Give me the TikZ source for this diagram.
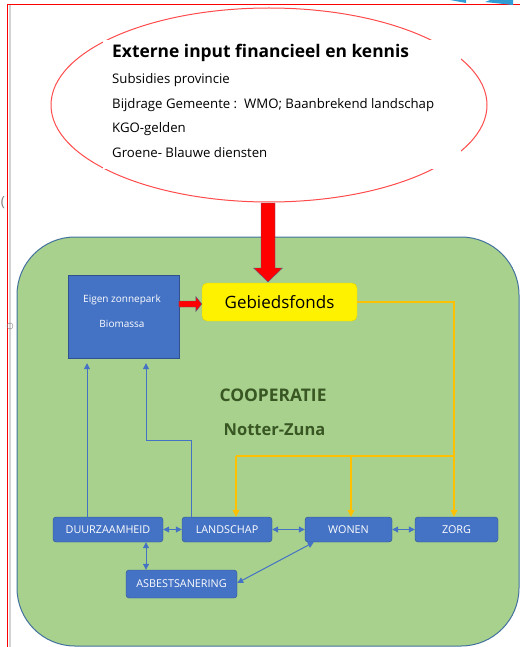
\documentclass[tikz,border=0pt]{standalone}
\usepackage{fontspec}
\setmainfont{Open Sans}
\usetikzlibrary{arrows.meta,positioning,shapes.geometric}
\definecolor{veld}{HTML}{A9D18E}
\definecolor{veldrand}{HTML}{41719C}
\definecolor{blauw}{HTML}{4472C4}
\definecolor{blokrand}{HTML}{2F528F}
\definecolor{oranje}{HTML}{FFC000}
\definecolor{donkergroen}{HTML}{385723}
\definecolor{ovaalrand}{HTML}{FF4B4B}
\begin{document}
\begin{tikzpicture}[x=1pt,y=-1pt,
  blok/.style={draw=blokrand,fill=blauw,rounded corners=3pt,text=white,
    font=\fontsize{10.8}{12}\selectfont,minimum height=25pt,inner sep=0pt},
  lijn/.style={blauw,line width=1pt,-{Triangle[length=6pt,width=6pt]}},
  dubbel/.style={blauw,line width=1pt,{Triangle[length=6pt,width=6pt]}-{Triangle[length=6pt,width=6pt]}},
  geel/.style={oranje,line width=1.2pt},
  geelpijl/.style={oranje,line width=1.2pt,-{Triangle[length=7pt,width=7pt]}},
  regel/.style={anchor=base west,inner sep=0pt,font=\fontsize{13.2}{15}\selectfont}]
\useasboundingbox (0,0) rectangle (520,647);
%\draw[step=50,gray,very thin] (0,0) grid (520,647);
% pagina rand
\draw[gray!35,line width=2pt] (10,5) -- (10,647);
\draw[red,line width=1pt] (7,647) -- (7,5) -- (520,5);
\fill[blauw!70!cyan] (450,0) -- (466,0) -- (466,3) -- cycle;
\fill[blauw!70!cyan] (485,2) -- (490,0) -- (513,0) -- (513,5) -- cycle;
\node[gray,inner sep=0pt,font=\fontsize{14}{14}\selectfont] (haak) at (3,203) {(};
\draw[gray] (10,326) circle (3);
% externe input
\node[draw=ovaalrand,line width=1pt,fill=white,ellipse,minimum width=436pt,minimum height=194pt,inner sep=0pt] (extern) at (269,105) {};
\fill[white] (103,40) rectangle (461,169);
\node[regel,font=\fontsize{17.4}{18}\selectfont\bfseries] (titel) at (112,58) {Externe input financieel en kennis};
\node[regel] (r1) at (112,84) {Subsidies provincie};
\node[regel] (r2) at (112,109) {Bijdrage Gemeente :\ \ WMO; Baanbrekend landschap};
\node[regel] (r3) at (112,133) {KGO-gelden};
\node[regel] (r4) at (112,158) {Groene- Blauwe diensten};
% cooperatie
\draw[fill=veld,draw=veldrand,line width=1pt,rounded corners=58pt] (17,237) rectangle (519,646);
\node[fill=blauw,draw=blokrand,minimum width=111pt,minimum height=83pt,inner sep=0pt] (zon) at (123.5,316.5) {};
\node[text=white,font=\fontsize{10}{12}\selectfont] (zon1) at (122,300) {Eigen zonnepark};
\node[text=white,font=\fontsize{10}{12}\selectfont] (zon2) at (122,324) {Biomassa};
\node[draw=yellow!70!olive,fill=yellow,rounded corners=5pt,minimum width=155pt,minimum height=38pt,
  inner sep=0pt,font=\fontsize{17}{19}\selectfont] (fonds) at (279.5,302) {Gebiedsfonds};
\node[text=donkergroen,font=\fontsize{17.4}{18}\selectfont\bfseries] (coop) at (273,395) {COOPERATIE};
\node[text=donkergroen,font=\fontsize{16.5}{18}\selectfont\bfseries] (naam) at (274.5,430) {Notter-Zuna};
% rode pijlen
\coordinate (punt) at (268,282);
\draw[blokrand!60!gray,fill=red] (punt) -- ++(-14.5,-14) -- ++(7.5,0) -- ++(0,-65) -- ++(14,0)
  -- ++(0,65) -- ++(7.5,0) -- cycle;
\coordinate (punt2) at (fonds.west |- 0,304);
\draw[blokrand!60!gray,fill=red] (punt2) -- ++(-6,-7.5) -- ++(0,4.5) -- ++(-17,0) -- ++(0,6)
  -- ++(17,0) -- ++(0,4.5) -- cycle;
% werkvelden
\node[blok,minimum width=110pt] (duur) at (108,529.5) {DUURZAAMHEID};
\node[blok,minimum width=90pt] (land) at (227,529.5) {LANDSCHAP};
\node[blok,minimum width=87pt] (wonen) at (348.5,529.5) {WONEN};
\node[blok,minimum width=83pt] (zorg) at (456.5,529.5) {ZORG};
\node[blok,minimum width=111pt,minimum height=28pt] (asb) at (181.5,584) {ASBESTSANERING};
% geldstroom
\coordinate (splits) at (454,456);
\coordinate (links) at (236,456);
\coordinate (tak) at (351,456);
\draw[geel] (fonds.east) -| (splits) -- (links);
\draw[geelpijl] (splits) -- (splits |- zorg.north);
\draw[geelpijl] (links) -- (links |- land.north);
\draw[geelpijl] (tak) -- ([xshift=2.5pt]wonen.north);
% verbindingen
\draw[lijn,shorten >=5pt] ([xshift=-21pt]duur.north) -- ([xshift=-21pt]duur.north |- zon.south);
\coordinate (knik) at (146,440);
\draw[lijn,shorten >=5pt] ([xshift=-36pt]land.north) |- (knik) -- (knik |- zon.south);
\draw[dubbel] (duur.east) -- (land.west);
\draw[dubbel] (land.east) -- (wonen.west);
\draw[dubbel] (wonen.east) -- (zorg.west);
\draw[dubbel] ([xshift=38pt]duur.south) -- ([xshift=38pt]duur.south |- asb.north);
\draw[dubbel] ([yshift=1pt]asb.east) -- ([xshift=9pt]wonen.south west);
\end{tikzpicture}
\end{document}
